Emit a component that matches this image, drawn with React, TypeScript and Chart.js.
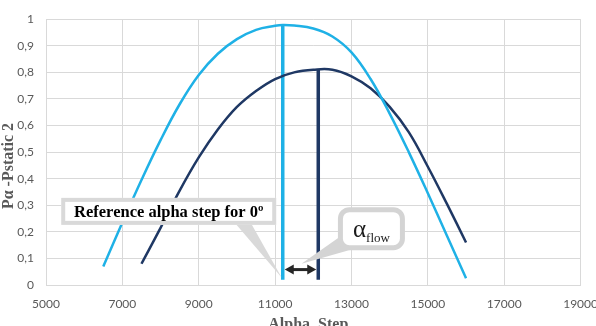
import React, { useEffect, useRef } from "react";
import { Chart, registerables } from "chart.js";

Chart.register(...registerables);

// ---- data ----
const lightX = [6500, 7000, 7500, 8000, 8500, 9000, 9500, 10000, 10500, 11000, 11200, 11500, 12000, 12500, 13000, 13500, 14000, 14500, 15000, 15500, 16000];
const lightY = [0.07, 0.235, 0.395, 0.545, 0.68, 0.79, 0.87, 0.925, 0.96, 0.975, 0.978, 0.976, 0.965, 0.935, 0.875, 0.775, 0.645, 0.50, 0.345, 0.185, 0.025];
const darkX = [7500, 8000, 8500, 9000, 9500, 10000, 10500, 11000, 11500, 12000, 12500, 13000, 13500, 14000, 14500, 15000, 15500, 16000];
const darkY = [0.08, 0.215, 0.355, 0.48, 0.585, 0.67, 0.73, 0.775, 0.80, 0.81, 0.81, 0.785, 0.74, 0.67, 0.575, 0.445, 0.305, 0.16];

const refStepX = 11200; // light vertical
const refStepTop = 0.978;
const flowStepX = 12130; // dark vertical
const flowStepTop = 0.81;
const vertBottom = 0.02;
const arrowY = 0.058;

const xTicks = [5000, 7000, 9000, 11000, 13000, 15000, 17000, 19000];
const yTicks = [0, 0.1, 0.2, 0.3, 0.4, 0.5, 0.6, 0.7, 0.8, 0.9, 1];

const xTitle = "Alpha_Step";
const yTitle = "P\u03b1 -Pstatic 2";
const refLabel = "Reference alpha step for 0\u00ba";
const flowMain = "\u03b1";
const flowSub = "flow";

// annotation anchors in data units
const refBoxCenter = { x: 8214, y: 0.277 };
const refTip = { x: 11170, y: 0.028 };
const flowBoxCenter = { x: 13522, y: 0.212 };
const flowTip = { x: 11690, y: 0.08 };

const LIGHT = "#1FB1E6";
const DARK = "#1F3864";

const annotPlugin = {
  id: "annot",
  afterDatasetsDraw(chart: any) {
    const ctx = chart.ctx as CanvasRenderingContext2D;
    const xs = chart.scales.x;
    const ys = chart.scales.y;
    const px = (v: number) => xs.getPixelForValue(v);
    const py = (v: number) => ys.getPixelForValue(v);
    ctx.save();

    // --- box 1 tail
    const b1x = px(refBoxCenter.x), b1y = py(refBoxCenter.y);
    const b1w = 215, b1h = 27;
    const t1x = px(refTip.x), t1y = py(refTip.y);
    ctx.fillStyle = "#d9d9d9";
    ctx.beginPath();
    ctx.moveTo(b1x + 66, b1y + b1h / 2 - 2);
    ctx.lineTo(b1x + 82, b1y + b1h / 2 - 2);
    ctx.lineTo(t1x, t1y);
    ctx.closePath();
    ctx.fill();

    // --- box 1
    ctx.fillStyle = "#ffffff";
    ctx.fillRect(b1x - b1w / 2, b1y - b1h / 2, b1w, b1h);
    ctx.strokeStyle = "#d9d9d9";
    ctx.lineWidth = 4;
    ctx.strokeRect(b1x - b1w / 2 + 2, b1y - b1h / 2 + 2, b1w - 4, b1h - 4);
    ctx.fillStyle = "#000000";
    ctx.font = "bold 16.5px 'Liberation Serif', 'DejaVu Serif', serif";
    ctx.textAlign = "center";
    ctx.textBaseline = "middle";
    ctx.fillText(refLabel, b1x, b1y + 1);

    // --- box 2 tail
    const b2x = px(flowBoxCenter.x), b2y = py(flowBoxCenter.y);
    const b2w = 67, b2h = 43;
    const t2x = px(flowTip.x), t2y = py(flowTip.y);
    ctx.fillStyle = "#d4d4d4";
    ctx.beginPath();
    ctx.moveTo(b2x - b2w / 2 + 2, b2y + 8);
    ctx.lineTo(b2x - b2w / 2 + 18, b2y + b2h / 2 - 2);
    ctx.lineTo(t2x, t2y);
    ctx.closePath();
    ctx.fill();

    // --- box 2 rounded
    const r = 9;
    const lx = b2x - b2w / 2 + 2.5, ty = b2y - b2h / 2 + 2.5, w = b2w - 5, h = b2h - 5;
    ctx.beginPath();
    (ctx as any).roundRect(lx, ty, w, h, r);
    ctx.fillStyle = "#ffffff";
    ctx.fill();
    ctx.strokeStyle = "#d4d4d4";
    ctx.lineWidth = 5;
    ctx.stroke();
    ctx.fillStyle = "#1a1a1a";
    ctx.textAlign = "left";
    ctx.textBaseline = "alphabetic";
    ctx.font = "25px 'Liberation Serif', 'DejaVu Serif', serif";
    const aw = ctx.measureText(flowMain).width;
    ctx.font = "13px 'Liberation Serif', 'DejaVu Serif', serif";
    const fw = ctx.measureText(flowSub).width;
    const startX = b2x - (aw + fw) / 2;
    ctx.font = "25px 'Liberation Serif', 'DejaVu Serif', serif";
    ctx.fillText(flowMain, startX, b2y + 8);
    ctx.font = "13px 'Liberation Serif', 'DejaVu Serif', serif";
    ctx.fillText(flowSub, startX + aw, b2y + 13);

    // --- double arrow
    const ax1 = px(refStepX) + 2, ax2 = px(flowStepX) - 2, ay = py(arrowY);
    ctx.strokeStyle = "#262626";
    ctx.fillStyle = "#262626";
    ctx.lineWidth = 3;
    ctx.beginPath();
    ctx.moveTo(ax1 + 6, ay);
    ctx.lineTo(ax2 - 6, ay);
    ctx.stroke();
    ctx.beginPath();
    ctx.moveTo(ax1, ay);
    ctx.lineTo(ax1 + 9, ay - 5);
    ctx.lineTo(ax1 + 9, ay + 5);
    ctx.closePath();
    ctx.fill();
    ctx.beginPath();
    ctx.moveTo(ax2, ay);
    ctx.lineTo(ax2 - 9, ay - 5);
    ctx.lineTo(ax2 - 9, ay + 5);
    ctx.closePath();
    ctx.fill();

    // --- axis titles
    ctx.fillStyle = "#595959";
    ctx.font = "bold 16px 'Liberation Serif', 'DejaVu Serif', serif";
    ctx.textAlign = "center";
    ctx.textBaseline = "alphabetic";
    ctx.fillText(xTitle, (chart.chartArea.left + chart.chartArea.right) / 2 - 5, 329);
    ctx.save();
    ctx.translate(13, 166);
    ctx.rotate(-Math.PI / 2);
    ctx.fillText(yTitle, 0, 0);
    ctx.restore();

    ctx.restore();
  },
};

export default function App() {
  const ref = useRef<HTMLCanvasElement | null>(null);
  useEffect(() => {
    if (!ref.current) return;
    const chart = new Chart(ref.current, {
      type: "scatter",
      data: {
        datasets: [
          {
            data: lightX.map((x, i) => ({ x, y: lightY[i] })),
            borderColor: LIGHT,
            borderWidth: 2.5,
            pointRadius: 0,
            showLine: true,
            tension: 0.4,
          },
          {
            data: darkX.map((x, i) => ({ x, y: darkY[i] })),
            borderColor: DARK,
            borderWidth: 2.5,
            pointRadius: 0,
            showLine: true,
            tension: 0.4,
          },
          {
            data: [{ x: refStepX, y: vertBottom }, { x: refStepX, y: refStepTop }],
            borderColor: LIGHT,
            borderWidth: 3.5,
            pointRadius: 0,
            showLine: true,
            tension: 0,
          },
          {
            data: [{ x: flowStepX, y: vertBottom }, { x: flowStepX, y: flowStepTop }],
            borderColor: DARK,
            borderWidth: 3.5,
            pointRadius: 0,
            showLine: true,
            tension: 0,
          },
        ],
      },
      options: {
        animation: false,
        responsive: false,
        devicePixelRatio: 1,
        layout: { padding: { top: 8, left: 0, right: 26, bottom: 0 } },
        plugins: { legend: { display: false }, tooltip: { enabled: false } },
        scales: {
          x: {
            type: "linear",
            min: xTicks[0],
            max: xTicks[xTicks.length - 1],
            afterBuildTicks: (s: any) => { s.ticks = xTicks.map((v) => ({ value: v })); },
            afterFit: (s: any) => { s.height = 55; },
            ticks: {
              color: "#595959",
              font: { family: "Lato, 'Open Sans', sans-serif", size: 12 },
              padding: 12,
              maxRotation: 0,
              callback: (v: any) => String(v),
            },
            grid: { color: "#d9d9d9", drawTicks: false },
            border: { color: "#d9d9d9" },
          },
          y: {
            min: 0,
            max: 1,
            afterBuildTicks: (s: any) => { s.ticks = yTicks.map((v) => ({ value: v })); },
            afterFit: (s: any) => { s.width = 46; },
            ticks: {
              color: "#595959",
              font: { family: "Lato, 'Open Sans', sans-serif", size: 12 },
              padding: 12,
              callback: (v: any) => {
                const n = Number(v);
                if (Math.abs(n) < 1e-9) return "0";
                if (Math.abs(n - 1) < 1e-9) return "1";
                return n.toFixed(1).replace(".", ",");
              },
            },
            grid: { color: "#d9d9d9", drawTicks: false },
            border: { color: "#d9d9d9" },
          },
        },
      },
      plugins: [annotPlugin],
    });
    return () => chart.destroy();
  }, []);
  return (
    <div style={{ position: "fixed", left: 0, top: 0, width: 596, height: 326, overflow: "hidden", background: "#fff" }}>
      <canvas ref={ref} width={610} height={340} style={{ display: "block" }} />
    </div>
  );
}
